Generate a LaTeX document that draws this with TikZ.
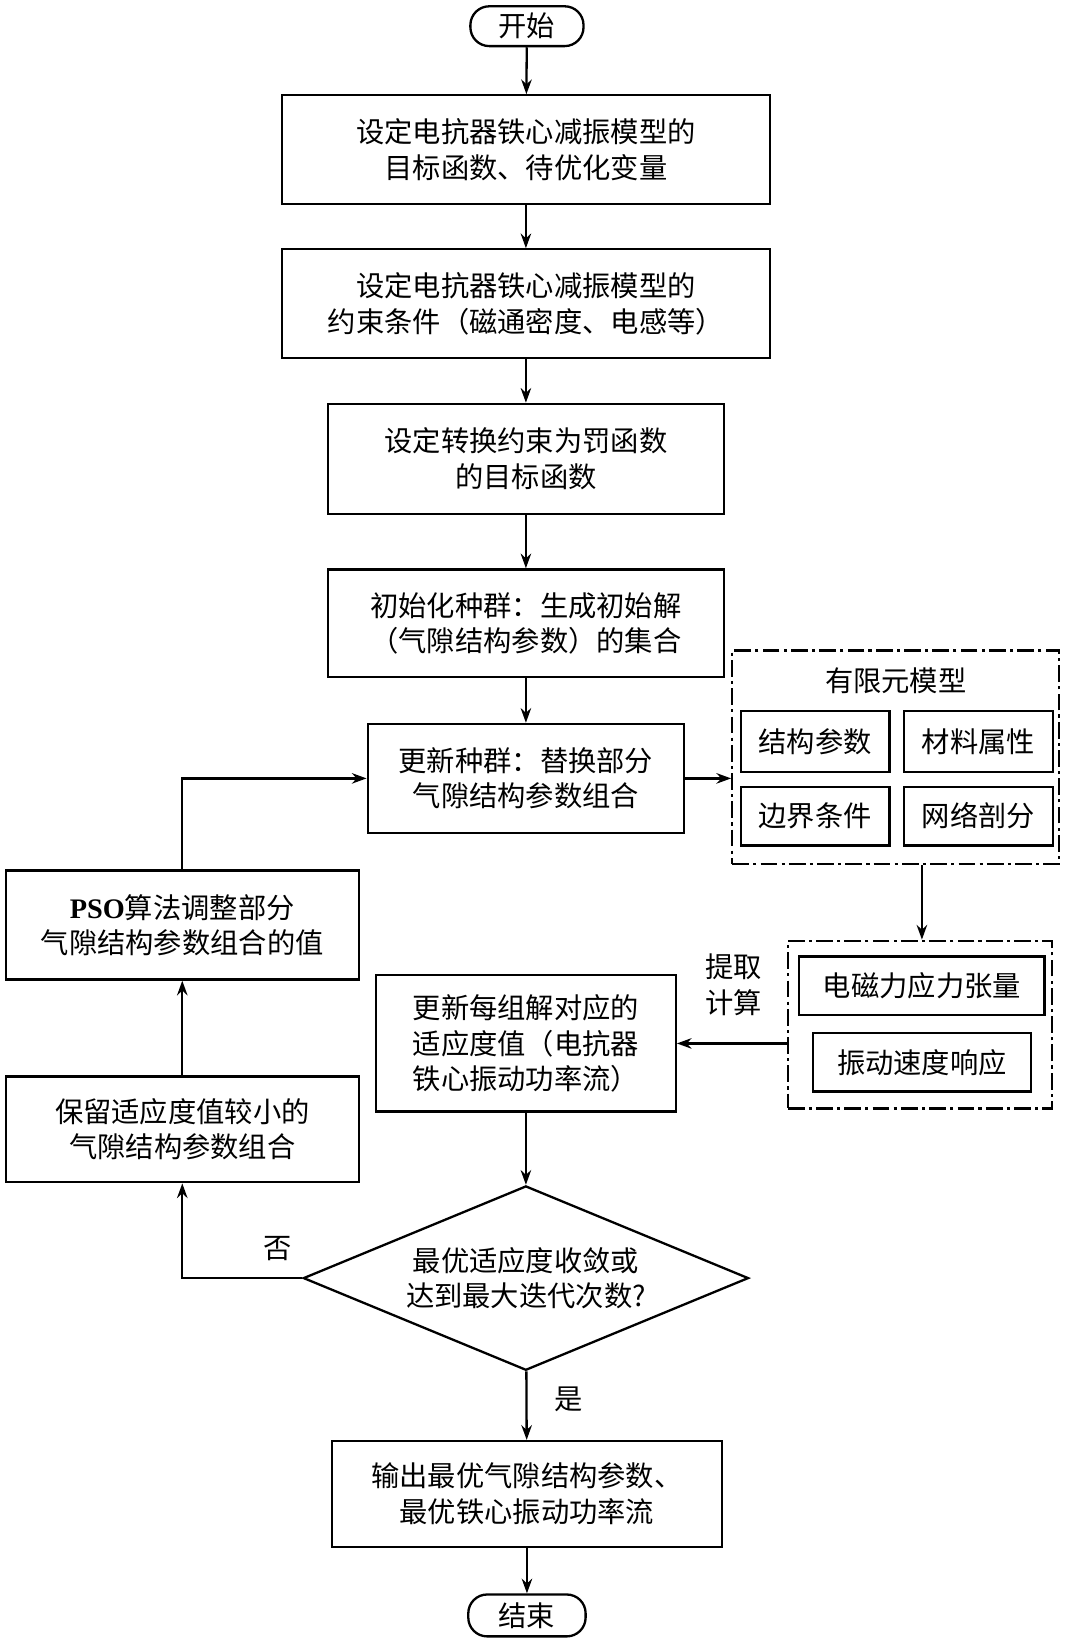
\documentclass[tikz,border=0pt]{standalone}
\usepackage{fontspec}
\setmainfont{Liberation Serif}
\newfontfamily\cjk{Noto Sans CJK SC}
\usetikzlibrary{arrows.meta,shapes.geometric}
\begin{document}
\begin{tikzpicture}[x=0.5pt,y=-0.5pt,
 every node/.style={font=\cjk\fontsize{13.5}{17}\selectfont,align=center,inner sep=0pt},
 box/.style={draw,line width=1.1pt},
 dd/.style={draw,line width=1.1pt,dash pattern=on 8pt off 2pt on 1.5pt off 2pt},
 arr/.style={-{Stealth[length=7pt,width=5pt]},line width=1.1pt}]
\useasboundingbox (0,0) rectangle (1020,1575);
\def\bx#1#2#3#4#5#6{\node[box,minimum width=#4*0.5pt-1pt,minimum height=#5*0.5pt-1pt] (#1) at (#2,#3) {#6};}
\node[box,rounded corners=9pt,minimum width=54pt,minimum height=19pt] (s) at (503,25) {开始};
\bx{b1}{502}{143}{468}{106}{设定电抗器铁心减振模型的\\目标函数、待优化变量}
\bx{b2}{502}{290}{468}{106}{设定电抗器铁心减振模型的\\约束条件（磁通密度、电感等）}
\bx{b3}{502}{438}{380}{107}{设定转换约束为罚函数\\的目标函数}
\bx{b4}{502}{595}{380}{105}{初始化种群：生成初始解\\（气隙结构参数）的集合}
\bx{b5}{502}{743}{304}{106}{更新种群：替换部分\\气隙结构参数组合}
\node[dd,minimum width=156pt,minimum height=102pt] (fem) at (855,723) {};
\node at (855,650) {有限元模型};
\bx{f1}{778}{708}{144}{60}{结构参数}
\bx{f2}{934}{708}{144}{60}{材料属性}
\bx{f3}{778}{779}{144}{58}{边界条件}
\bx{f4}{934}{779}{144}{58}{网络剖分}
\node[dd,minimum width=126pt,minimum height=80pt] (cal) at (878,978) {};
\bx{c1}{880}{941}{236}{58}{电磁力应力张量}
\bx{c2}{880}{1014}{210}{58}{振动速度响应}
\bx{up}{502}{996}{288}{132}{更新每组解对应的\\适应度值（电抗器\\铁心振动功率流）}
\node[draw,line width=1.1pt,diamond,aspect=2.41,minimum width=212.5pt,minimum height=88pt] (d) at (502,1220) {};
\node at (502,1220) {最优适应度收敛或\\达到最大迭代次数?};
\bx{out}{503}{1426}{374}{103}{输出最优气隙结构参数、\\最优铁心振动功率流}
\node[box,rounded corners=9pt,minimum width=56pt,minimum height=20pt] (e) at (503,1542) {结束};
\bx{pso}{174}{883}{339}{106}{{\fontspec{Liberation Serif}\bfseries PSO}算法调整部分\\气隙结构参数组合的值}
\bx{keep}{174}{1078}{339}{103}{保留适应度值较小的\\气隙结构参数组合}
\draw[arr] (s)--(b1); \draw[arr] (b1)--(b2); \draw[arr] (b2)--(b3);
\draw[arr] (b3)--(b4); \draw[arr] (b4)--(b5);
\draw[arr] (b5.east)--(fem.west|-b5.east);
\draw[arr] (fem.south-|c1)--(cal.north-|c1);
\draw[arr] (cal.west|-up)--(up.east);
\node at (700,940) {提取\\计算};
\draw[arr] (up)--(d); \draw[arr] (d)--(out); \draw[arr] (out)--(e);
\node at (543,1336) {是};
\draw[arr] (d.west)-|(keep.south);
\node at (265,1192) {否};
\draw[arr] (keep)--(pso);
\draw[arr] (pso.north)|-(b5.west);
\end{tikzpicture}
\end{document}
